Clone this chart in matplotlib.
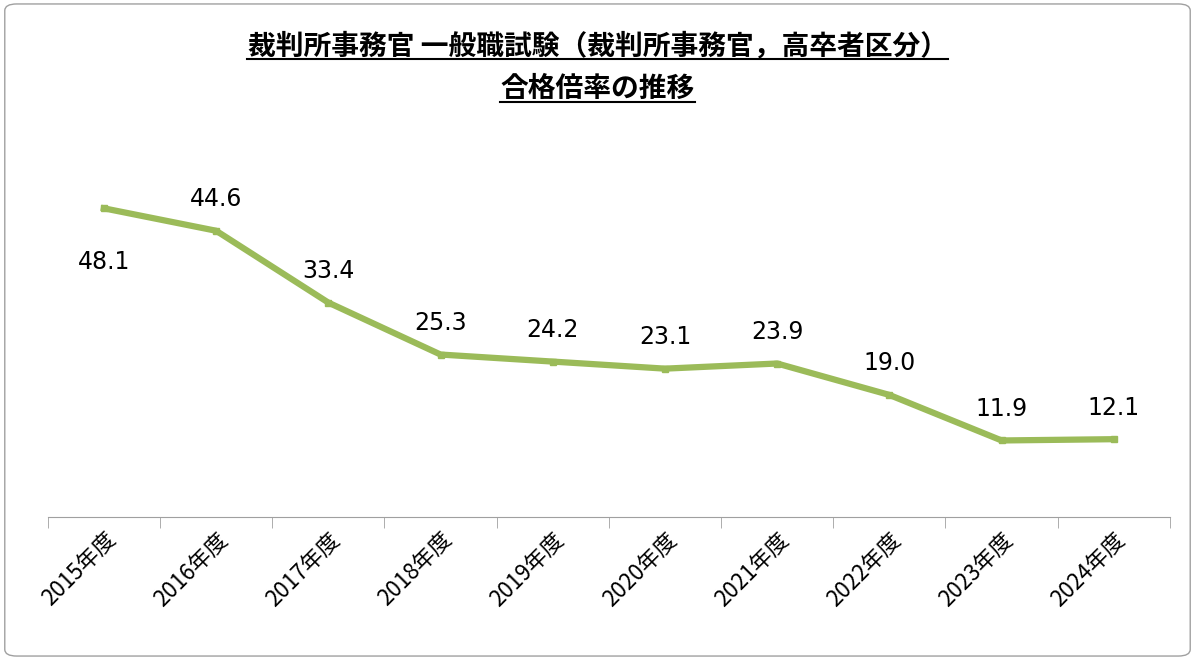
import matplotlib
matplotlib.use("Agg")
import matplotlib.pyplot as plt
from matplotlib.patches import FancyBboxPatch
from matplotlib.lines import Line2D

categories = ["2015年度","2016年度","2017年度","2018年度","2019年度","2020年度","2021年度","2022年度","2023年度","2024年度"]
values = [48.1, 44.6, 33.4, 25.3, 24.2, 23.1, 23.9, 19.0, 11.9, 12.1]

plt.rcParams["font.family"] = ["Noto Sans CJK JP"]
fig = plt.figure(figsize=(11.95, 6.6), dpi=100)
ax = fig.add_axes([0.040, 0.217, 0.939, 0.583])
x = list(range(len(categories)))
ax.plot(x, values, color="#9bbb59", lw=4.5, marker="s", ms=5, solid_joinstyle="round")
ax.set_xlim(-0.5, len(categories) - 0.5)
ax.set_ylim(0, 60)
ax.set_yticks([])
for s in ["top", "right", "left"]:
    ax.spines[s].set_visible(False)
ax.spines["bottom"].set_color("#a0a0a0")
ax.set_xticks(x)
ax.set_xticklabels(categories, rotation=45, ha="right", va="top", rotation_mode="anchor", fontsize=16, fontfamily="Noto Sans CJK JP")
ax.tick_params(axis="x", which="major", length=0, pad=8)
ax.set_xticks([i - 0.5 for i in range(len(categories) + 1)], minor=True)
ax.tick_params(axis="x", which="minor", length=8, color="#a0a0a0")
for i, v in enumerate(values):
    off = -30 if i == 0 else 14
    ax.annotate(f"{v:.1f}", (i, v), xytext=(0, off), textcoords="offset points",
                ha="center", va="bottom" if off > 0 else "top", fontsize=17, fontfamily="DejaVu Sans")

t1 = fig.text(0.5, 0.93, "裁判所事務官 一般職試験（裁判所事務官，高卒者区分）", ha="center", va="center", fontsize=20, fontweight="bold")
t2 = fig.text(0.5, 0.865, "合格倍率の推移", ha="center", va="center", fontsize=20, fontweight="bold")
fig.patches.append(FancyBboxPatch((0.004, 0.006), 0.992, 0.988, boxstyle="round,pad=0,rounding_size=0.01",
                                  transform=fig.transFigure, fill=False, ec="#a0a0a0", lw=1))
fig.canvas.draw()
r = fig.canvas.get_renderer()
for t in (t1, t2):
    bb = t.get_window_extent(r).transformed(fig.transFigure.inverted())
    y = bb.y0 + 0.002
    fig.add_artist(Line2D([bb.x0, bb.x1], [y, y], transform=fig.transFigure, color="black", lw=1.5))
fig.savefig("out.png", dpi=100)
